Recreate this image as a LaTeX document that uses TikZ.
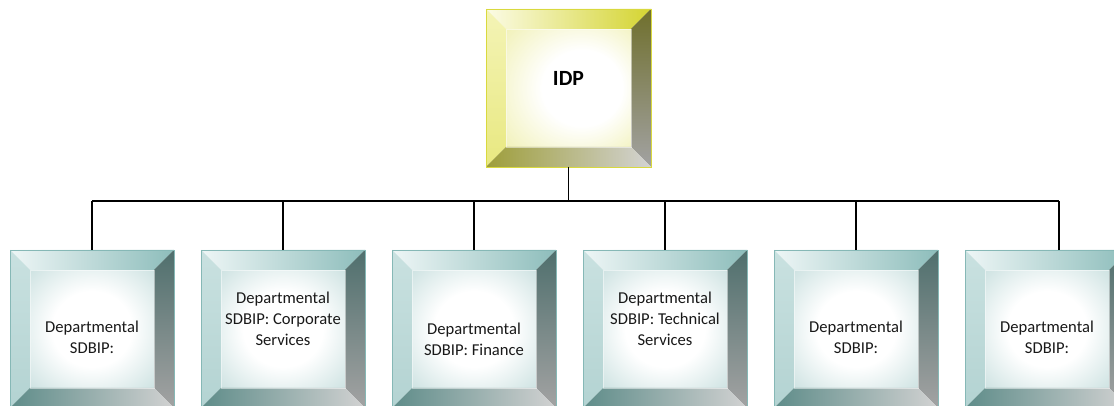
\documentclass[tikz,border=0pt]{standalone}
\usepackage{fontspec}
\setmainfont{Carlito}
\usetikzlibrary{positioning}

\definecolor{tealline}{HTML}{86B8B6}
\definecolor{tealface}{HTML}{A9CDCC}
\definecolor{tealtopa}{HTML}{EEF6F6}
\definecolor{tealtopb}{HTML}{8DBDBB}
\definecolor{teallefta}{HTML}{C9E1E0}
\definecolor{tealleftb}{HTML}{B3D3D2}
\definecolor{tealrighta}{HTML}{4F6F6D}
\definecolor{tealrightb}{HTML}{A3A3A3}
\definecolor{tealbota}{HTML}{5E8C89}
\definecolor{tealbotb}{HTML}{D2D2D2}

\definecolor{goldline}{HTML}{D9D93E}
\definecolor{goldface}{HTML}{E9E98E}
\definecolor{goldtopa}{HTML}{FBFBE6}
\definecolor{goldtopb}{HTML}{D4D431}
\definecolor{goldlefta}{HTML}{F4F4B6}
\definecolor{goldleftb}{HTML}{E8E880}
\definecolor{goldrighta}{HTML}{6F6F2C}
\definecolor{goldrightb}{HTML}{A2A2A2}
\definecolor{goldbota}{HTML}{9E9E3A}
\definecolor{goldbotb}{HTML}{D3D3D3}

\pgfdeclareradialshading{tealglow}{\pgfpoint{0bp}{0bp}}{color(0bp)=(white); color(16bp)=(white); color(50bp)=(tealface)}
\pgfdeclareradialshading{goldglow}{\pgfpoint{8bp}{0bp}}{color(0bp)=(white); color(16bp)=(white); color(50bp)=(goldface)}

\begin{document}
\begin{tikzpicture}[x=1pt, y=1pt, node distance=27pt,
    bevel/.style={rectangle, draw=#1line, line width=0.8pt, inner sep=0pt, outer sep=0pt,
      path picture={
        \coordinate (p1) at (path picture bounding box.south west);
        \coordinate (p2) at (path picture bounding box.north east);
        \coordinate (q1) at ([shift={(20pt,20pt)}]p1);
        \coordinate (q2) at ([shift={(-20pt,-20pt)}]p2);
        \shade[shading=#1glow] (q1) rectangle (q2);
        \shade[left color=#1topa, right color=#1topb] (p1 |- p2) -- (p2) -- (q2) -- (q1 |- q2) -- cycle;
        \shade[top color=#1lefta, bottom color=#1leftb] (p1 |- p2) -- (q1 |- q2) -- (q1) -- (p1) -- cycle;
        \shade[top color=#1righta, bottom color=#1rightb] (p2) -- (p2 |- p1) -- (q2 |- q1) -- (q2) -- cycle;
        \shade[left color=#1bota, right color=#1botb] (p1) -- (p2 |- p1) -- (q2 |- q1) -- (q1) -- cycle;
        \draw[white, opacity=0.5, line width=0.6pt] (q1) rectangle (q2);
      }}]
    \tikzstyle{link}=[line width=1.5pt, black]
    \tikzstyle{dept}=[bevel=teal, minimum width=164pt, minimum height=158pt]
    \tikzstyle{lbl}=[align=center, font=\fontsize{16.6}{21}\selectfont, text=black!90]

      \useasboundingbox (0,0) rectangle (1114,406);
      \clip (0,0) rectangle (1114,406);

      \node[bevel=gold, minimum width=165pt, minimum height=158pt] (idp) at (568.5,318) {};
      \node[dept] (sd1) at (92,77) {};
      \node[dept, right=of sd1] (sd2) {};
      \node[dept, right=of sd2] (sd3) {};
      \node[dept, right=of sd3] (sd4) {};
      \node[dept, right=of sd4] (sd5) {};
      \node[dept, right=of sd5] (sd6) {};

      \node[font=\fontsize{21.7}{26}\selectfont\bfseries] (idptext) at ([yshift=10pt]idp.center) {IDP};
      \begin{scope}
        \clip ([shift={(20pt,20pt)}]sd1.south west) rectangle ([shift={(-20pt,-20pt)}]sd1.north east);
        \node[lbl] (sd1text) at ([yshift=-32pt]sd1.center) {Departmental\\SDBIP:\\[26pt]Office of the MM};
      \end{scope}
      \node[lbl] (sd2text) at ([yshift=10pt]sd2.center) {Departmental\\SDBIP: Corporate\\Services};
      \node[lbl] (sd3text) at ([yshift=-10.5pt]sd3.center) {Departmental\\SDBIP: Finance};
      \node[lbl] (sd4text) at ([yshift=10pt]sd4.center) {Departmental\\SDBIP: Technical\\Services};
      \node[lbl] (sd5text) at ([yshift=-8.5pt]sd5.center) {Departmental\\SDBIP:};
      \node[lbl] (sd6text) at ([yshift=-8.5pt]sd6.center) {Departmental\\SDBIP:};

      \coordinate[below=34pt of idp.south] (hub);
      \coordinate (tap6) at ([xshift=12pt]sd6.north);
      \draw[link] (idp.south) -- (hub);
      \draw[link] (hub -| sd1.north) -- (hub -| tap6);
      \foreach \b in {sd1,sd2,sd3,sd4,sd5}
        \draw[link] (hub -| \b.north) -- (\b.north);
      \draw[link] (hub -| tap6) -- (tap6);
    \end{tikzpicture}
\end{document}
